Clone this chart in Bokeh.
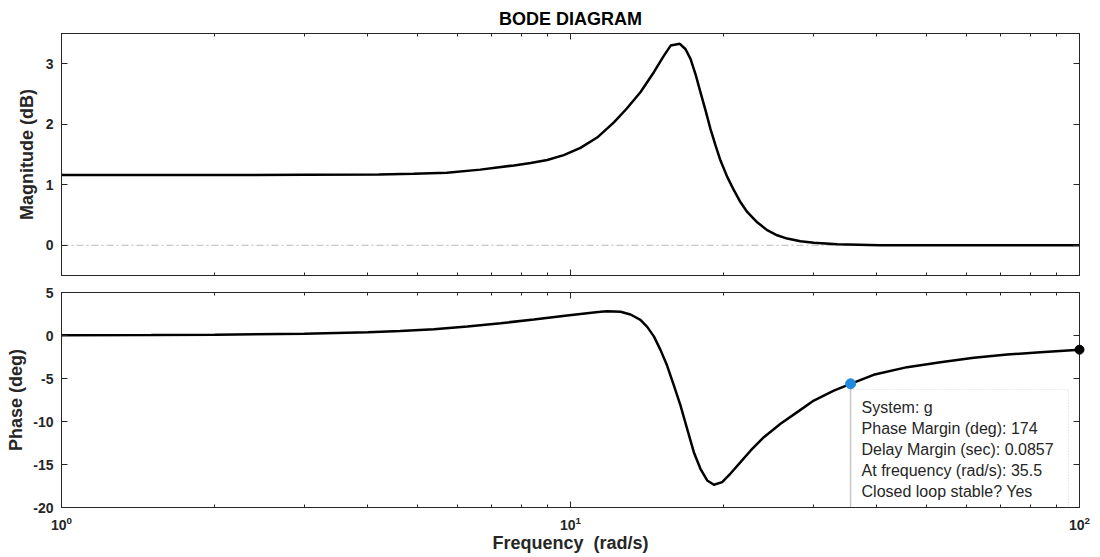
from bokeh.plotting import figure
from bokeh.models import (Range1d, LinearAxis, LogAxis, FixedTicker, Span,
                          CustomJSTickFormatter)
from bokeh.layouts import column
from bokeh.embed import file_html
from bokeh.resources import INLINE
from bokeh.core.properties import value

# ---------------- data ----------------
mag_freq = [1, 1.5, 2, 3, 4.2, 4.92, 5.72, 6.65, 7.74, 8.35, 9.0, 9.7, 10.46,
            11.28, 12.17, 12.9, 13.72, 14.58, 15.25, 15.73, 16.4, 16.83,
            17.21, 17.6, 18.0, 18.42, 18.84, 19.27, 19.71, 20.32, 20.94,
            21.58, 22.24, 23.27, 24.34, 25.47, 26.65, 28.3, 30.06, 33.4,
            40.6, 50, 70, 100]
mag_db = [1.16, 1.16, 1.16, 1.165, 1.17, 1.18, 1.20, 1.25, 1.32, 1.36, 1.41,
          1.49, 1.61, 1.78, 2.03, 2.26, 2.53, 2.86, 3.13, 3.30, 3.33, 3.24,
          3.08, 2.83, 2.53, 2.23, 1.92, 1.65, 1.40, 1.13, 0.91, 0.71, 0.55,
          0.38, 0.25, 0.165, 0.11, 0.066, 0.04, 0.016, 0.0, 0.0, 0.0, 0.0]

phase_freq = [1, 1.5, 2, 3, 4, 4.63, 5.39, 6.27, 7.29, 8.47, 9.85, 10.78,
              11.45, 11.81, 12.54, 13.12, 13.72, 14.15, 14.58, 15.03, 15.48,
              15.96, 16.44, 16.95, 17.47, 18.0, 18.56, 19.13, 19.86, 20.6,
              21.58, 22.6, 23.98, 25.86, 27.89, 30.06, 32.91, 35.5, 39.4,
              45.85, 53.3, 62.0, 72.1, 83.8, 100]
phase_deg = [0.02, 0.05, 0.09, 0.2, 0.38, 0.52, 0.74, 1.05, 1.43, 1.86, 2.33,
             2.6, 2.75, 2.83, 2.77, 2.44, 1.82, 1.0, -0.1, -1.7, -3.5, -5.8,
             -8.1, -10.85, -13.57, -15.5, -16.86, -17.36, -17.05, -16.08,
             -14.73, -13.37, -11.82, -10.27, -8.91, -7.56, -6.4, -5.62, -4.57,
             -3.68, -3.10, -2.60, -2.21, -1.94, -1.65]

pm_freq = [35.5]
pm_phase = [-5.62]
end_freq = [100]
end_phase = [-1.65]

tip_lines = ["System: g",
             "Phase Margin (deg): 174",
             "Delay Margin (sec): 0.0857",
             "At frequency (rad/s): 35.5",
             "Closed loop stable? Yes"]

freq_major = [1, 10, 100]
freq_minor = [2, 3, 4, 5, 6, 7, 8, 9, 20, 30, 40, 50, 60, 70, 80, 90]
mag_ticks = [0, 1, 2, 3]
phase_ticks = [-20, -15, -10, -5, 0, 5]

# ---------------- styling helpers ----------------
FONT = "Liberation Sans"
AX = "#262626"


def style_axis(ax, labels=True):
    ax.major_tick_in = 6
    ax.major_tick_out = 0
    ax.minor_tick_in = 3
    ax.minor_tick_out = 0
    ax.axis_line_color = AX
    ax.major_tick_line_color = AX
    ax.minor_tick_line_color = AX
    ax.major_label_text_font = FONT
    ax.major_label_text_font_style = "bold"
    ax.major_label_text_font_size = "14px"
    ax.major_label_text_color = AX
    ax.axis_label_text_font = FONT
    ax.axis_label_text_font_style = "bold"
    ax.axis_label_text_font_size = "18px"
    ax.axis_label_text_color = AX
    if not labels:
        ax.formatter = CustomJSTickFormatter(code="return ''")
        ax.major_label_text_font_size = "1px"
        ax.major_label_standoff = 0


def xticker():
    return FixedTicker(ticks=freq_major, minor_ticks=freq_minor)


plain = "return tick.toString()"

# ---------------- magnitude ----------------
p1 = figure(width=1100, height=283, x_axis_type="log",
            x_range=Range1d(1, 100), y_range=Range1d(-0.5, 3.5),
            output_backend="svg", toolbar_location=None,
            min_border_left=61, min_border_right=21,
            min_border_top=33, min_border_bottom=8)
p1.title.text = "BODE DIAGRAM"
p1.title.align = "center"
p1.title.text_font = FONT
p1.title.text_font_style = "bold"
p1.title.text_font_size = "18px"
p1.title.text_color = "#000000"
p1.grid.visible = False
p1.outline_line_color = AX

p1.xaxis[0].ticker = xticker()
style_axis(p1.xaxis[0], labels=False)
p1.yaxis[0].ticker = FixedTicker(ticks=mag_ticks, minor_ticks=[])
p1.yaxis[0].formatter = CustomJSTickFormatter(code=plain)
style_axis(p1.yaxis[0])
p1.yaxis[0].axis_label = "Magnitude (dB)"
p1.yaxis[0].major_label_standoff = 8
p1.yaxis[0].axis_label_standoff = 6

top1 = LogAxis(ticker=xticker())
style_axis(top1, labels=False)
p1.add_layout(top1, "above")
right1 = LinearAxis(ticker=FixedTicker(ticks=mag_ticks, minor_ticks=[]))
style_axis(right1, labels=False)
p1.add_layout(right1, "right")

p1.add_layout(Span(location=0, dimension="width", line_color="#b8b8b8",
                   line_width=1, line_dash="7 3 2 3", level="underlay"))
p1.line(mag_freq, mag_db, line_color="black", line_width=2.5)

# ---------------- phase ----------------
p2 = figure(width=1100, height=274, x_axis_type="log",
            x_range=p1.x_range, y_range=Range1d(-20, 5),
            output_backend="svg", toolbar_location=None,
            min_border_left=61, min_border_right=21,
            min_border_top=9, min_border_bottom=50)
p2.grid.visible = False
p2.outline_line_color = AX

p2.xaxis[0].ticker = xticker()
style_axis(p2.xaxis[0])
p2.xaxis[0].axis_label = "Frequency\u00a0 (rad/s)"
p2.xaxis[0].major_label_standoff = 8
p2.xaxis[0].axis_label_standoff = 0
p2.yaxis[0].ticker = FixedTicker(ticks=phase_ticks, minor_ticks=[])
p2.yaxis[0].formatter = CustomJSTickFormatter(code=plain)
style_axis(p2.yaxis[0])
p2.yaxis[0].axis_label = "Phase (deg)"
p2.yaxis[0].major_label_standoff = 8
p2.yaxis[0].axis_label_standoff = 4

top2 = LogAxis(ticker=xticker())
style_axis(top2, labels=False)
p2.add_layout(top2, "above")
right2 = LinearAxis(ticker=FixedTicker(ticks=phase_ticks, minor_ticks=[]))
style_axis(right2, labels=False)
p2.add_layout(right2, "right")

p2.line(phase_freq, phase_deg, line_color="black", line_width=2.5)

# data tip box
tip_right = [95.1]
tip_top = [pm_phase[0] - 0.66]
p2.quad(left=pm_freq, right=tip_right, top=tip_top, bottom=[-20],
        fill_color="white", line_color="#d8d8d8", line_dash="1 2", line_width=1)
p2.segment(x0=pm_freq, y0=pm_phase, x1=pm_freq, y1=[-20],
           line_color="#c8c8c8", line_width=1.5)
for i, t in enumerate(tip_lines):
    p2.text(x=pm_freq, y=pm_phase, text=[t], x_offset=11, y_offset=24 + 21 * i,
            text_font=value(FONT), text_font_size="16px",
            text_color="#262626", text_baseline="middle", text_align="left")

p2.scatter(pm_freq, pm_phase, size=10, fill_color="#1f8ae0",
           line_color="#1f8ae0", level="overlay")
p2.scatter(end_freq, end_phase, size=9, fill_color="black",
           line_color="black", level="overlay")

layout = column(p1, p2, spacing=0)
open("out.html", "w").write(file_html(layout, INLINE))
